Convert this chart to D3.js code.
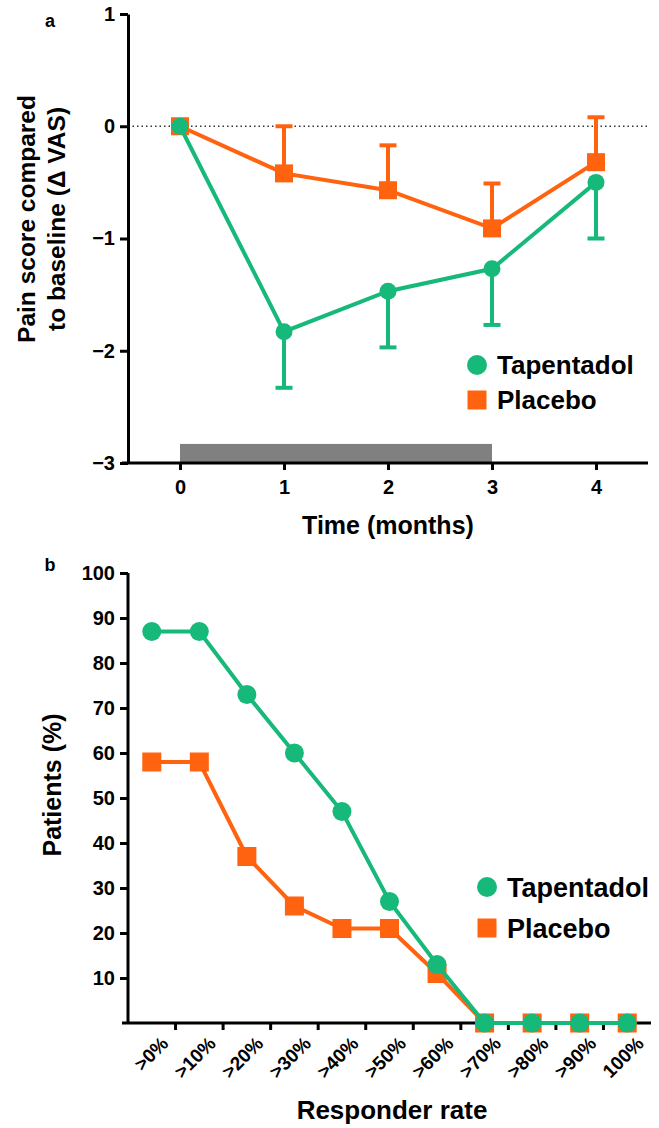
<!DOCTYPE html>
<html>
<head>
<meta charset="utf-8">
<script src="https://cdn.jsdelivr.net/npm/d3@7"></script>
<style>
  body { margin: 0; background: #fff; }
  svg { display: block; font-family: "Liberation Sans", Arial, sans-serif; font-weight: bold; }
</style>
</head>
<body>
<svg id="chart" width="659" height="1128"></svg>
<script>
// panel a: change in VAS over time
const months = [0, 1, 2, 3, 4]
const tapentadolMean = [0, -1.83, -1.47, -1.27, -0.50]
const tapentadolErr = [0, 0.50, 0.50, 0.50, 0.50]
const placeboMean = [0, -0.42, -0.57, -0.91, -0.32]
const placeboErr = [0, 0.42, 0.40, 0.40, 0.40]
const treatment = [0, 3]
const painTicks = [-3, -2, -1, 0, 1]

// panel b: responder rates
const responderCats = [">0%", ">10%", ">20%", ">30%", ">40%", ">50%", ">60%", ">70%", ">80%", ">90%", "100%"]
const tapentadolResp = [87, 87, 73, 60, 47, 27, 13, 0, 0, 0, 0]
const placeboResp = [58, 58, 37, 26, 21, 21, 11, 0, 0, 0, 0]
const pctTicks = [10, 20, 30, 40, 50, 60, 70, 80, 90, 100]

const green = "#17b97a"
const orange = "#ff630f"

const svg = d3.select("#chart")

function styleAxis(g, size) {
    g.select(".domain").attr("stroke", "#000").attr("stroke-width", 3)
    g.selectAll(".tick line").attr("stroke", "#000").attr("stroke-width", 3)
    g.selectAll(".tick text").attr("fill", "#000").style("font-size", size + "px").style("font-weight", "bold")
}

// ---------- panel a ----------
const xA = d3.scaleLinear().domain([-0.5, 4.5]).range([128, 648])
const yA = d3.scaleLinear().domain([-3, 1]).range([463, 14])

svg.append("text").attr("x", 50).attr("y", 27).attr("text-anchor", "middle")
    .style("font-size", "18px").text("a")

// treatment period bar
svg.append("rect")
    .attr("x", xA(treatment[0])).attr("width", xA(treatment[1]) - xA(treatment[0]))
    .attr("y", yA(-2.83)).attr("height", yA(-3) - yA(-2.83))
    .attr("fill", "#808080")

// dotted zero line
svg.append("line")
    .attr("x1", xA(-0.5)).attr("x2", xA(4.5)).attr("y1", yA(0)).attr("y2", yA(0))
    .attr("stroke", "#333").attr("stroke-width", 1.3).attr("stroke-dasharray", "1.5,3")

const axA_y = svg.append("g").attr("transform", `translate(${xA(-0.5)},0)`)
    .call(d3.axisLeft(yA).tickValues(painTicks).tickFormat(d3.format("d")).tickSize(8).tickSizeOuter(0).tickPadding(5))
styleAxis(axA_y, 20)

const axA_x = svg.append("g").attr("transform", `translate(0,${yA(-3)})`)
    .call(d3.axisBottom(xA).tickValues(months).tickFormat(d3.format("d")).tickSize(7).tickSizeOuter(0).tickPadding(10))
styleAxis(axA_x, 20)
axA_x.select(".domain").attr("d", `M${xA(-0.5) - 6},0H${xA(4.5)}`)

svg.append("text").attr("x", xA(2)).attr("y", 534).attr("text-anchor", "middle")
    .style("font-size", "25px").text("Time (months)")

const ylabA = svg.append("text").attr("transform", "translate(0,219) rotate(-90)")
    .attr("text-anchor", "middle").style("font-size", "24.5px")
ylabA.append("tspan").attr("x", 0).attr("y", 35).text("Pain score compared")
ylabA.append("tspan").attr("x", 0).attr("y", 65).text("to baseline (Δ VAS)")

function drawSeriesA(mean, err, color, dir, shape) {
    const pts = months.map((m, i) => ({ x: m, y: mean[i], e: err[i] }))
    const g = svg.append("g")
    // error bars (one-sided)
    pts.filter(d => d.e > 0).forEach(d => {
        const yEnd = d.y + dir * d.e
        g.append("line").attr("x1", xA(d.x)).attr("x2", xA(d.x))
            .attr("y1", yA(d.y)).attr("y2", yA(yEnd))
            .attr("stroke", color).attr("stroke-width", 4)
        g.append("line").attr("x1", xA(d.x) - 8.5).attr("x2", xA(d.x) + 8.5)
            .attr("y1", yA(yEnd)).attr("y2", yA(yEnd))
            .attr("stroke", color).attr("stroke-width", 4)
    })
    g.append("path").datum(pts)
        .attr("d", d3.line().x(d => xA(d.x)).y(d => yA(d.y)))
        .attr("fill", "none").attr("stroke", color).attr("stroke-width", 4)
    if (shape == "circle") {
        g.selectAll("circle").data(pts).join("circle")
            .attr("cx", d => xA(d.x)).attr("cy", d => yA(d.y)).attr("r", 8.5).attr("fill", color)
    } else {
        g.selectAll("rect").data(pts).join("rect")
            .attr("x", d => xA(d.x) - 9).attr("y", d => yA(d.y) - 9)
            .attr("width", 18).attr("height", 18).attr("fill", color)
    }
}
drawSeriesA(placeboMean, placeboErr, orange, 1, "square")
drawSeriesA(tapentadolMean, tapentadolErr, green, -1, "circle")

function legend(x, y, fs, gap) {
    const g = svg.append("g").attr("transform", `translate(${x},${y})`)
    g.append("circle").attr("cx", 0).attr("cy", 0).attr("r", 10).attr("fill", green)
    g.append("rect").attr("x", -9.5).attr("y", gap - 9.5).attr("width", 19).attr("height", 19).attr("fill", orange)
    g.append("text").attr("x", 20).attr("y", fs * 0.36).style("font-size", fs + "px").text("Tapentadol")
    g.append("text").attr("x", 20).attr("y", gap + fs * 0.36).style("font-size", fs + "px").text("Placebo")
}
legend(477, 365, 26, 35)

// ---------- panel b ----------
const xB = d3.scaleBand().domain(responderCats).range([128, 651])
const yB = d3.scaleLinear().domain([0, 100]).range([1023, 573])

svg.append("text").attr("x", 50).attr("y", 571).attr("text-anchor", "middle")
    .style("font-size", "18px").text("b")

const axB_y = svg.append("g").attr("transform", `translate(${xB.range()[0]},0)`)
    .call(d3.axisLeft(yB).tickValues(pctTicks).tickSize(8).tickSizeOuter(0).tickPadding(5))
styleAxis(axB_y, 20)
axB_y.select(".domain").attr("d", `M0,${yB(0)}V${yB(100)}`)

const axB_x = svg.append("g").attr("transform", `translate(0,${yB(0)})`)
axB_x.append("line").attr("x1", xB.range()[0] - 6).attr("x2", xB.range()[1])
    .attr("stroke", "#000").attr("stroke-width", 3)
axB_x.selectAll(".tk").data(responderCats.slice(1)).join("line")
    .attr("x1", d => xB(d)).attr("x2", d => xB(d)).attr("y1", 0).attr("y2", 7)
    .attr("stroke", "#000").attr("stroke-width", 3)
axB_x.selectAll(".lbl").data(responderCats).join("text")
    .attr("transform", d => `translate(${xB(d) + xB.bandwidth() / 2 + 8},${12}) rotate(-45)`)
    .attr("text-anchor", "end").attr("dy", "0.72em")
    .style("font-size", "19px").text(d => d)

svg.append("text").attr("x", 392).attr("y", 1119).attr("text-anchor", "middle")
    .style("font-size", "26px").text("Responder rate")

svg.append("text").attr("transform", `translate(61,785) rotate(-90)`)
    .attr("text-anchor", "middle").style("font-size", "25px").text("Patients (%)")

function drawSeriesB(vals, color, shape) {
    const cx = c => xB(c) + xB.bandwidth() / 2
    const pts = responderCats.map((c, i) => ({ c: c, v: vals[i] }))
    const g = svg.append("g")
    g.append("path").datum(pts)
        .attr("d", d3.line().x(d => cx(d.c)).y(d => yB(d.v)))
        .attr("fill", "none").attr("stroke", color).attr("stroke-width", 4)
    if (shape == "circle") {
        g.selectAll("circle").data(pts).join("circle")
            .attr("cx", d => cx(d.c)).attr("cy", d => yB(d.v)).attr("r", 9.5).attr("fill", color)
    } else {
        g.selectAll("rect").data(pts).join("rect")
            .attr("x", d => cx(d.c) - 9.5).attr("y", d => yB(d.v) - 9.5)
            .attr("width", 19).attr("height", 19).attr("fill", color)
    }
}
drawSeriesB(placeboResp, orange, "square")
drawSeriesB(tapentadolResp, green, "circle")

legend(487, 887, 27, 41)
</script>
</body>
</html>
